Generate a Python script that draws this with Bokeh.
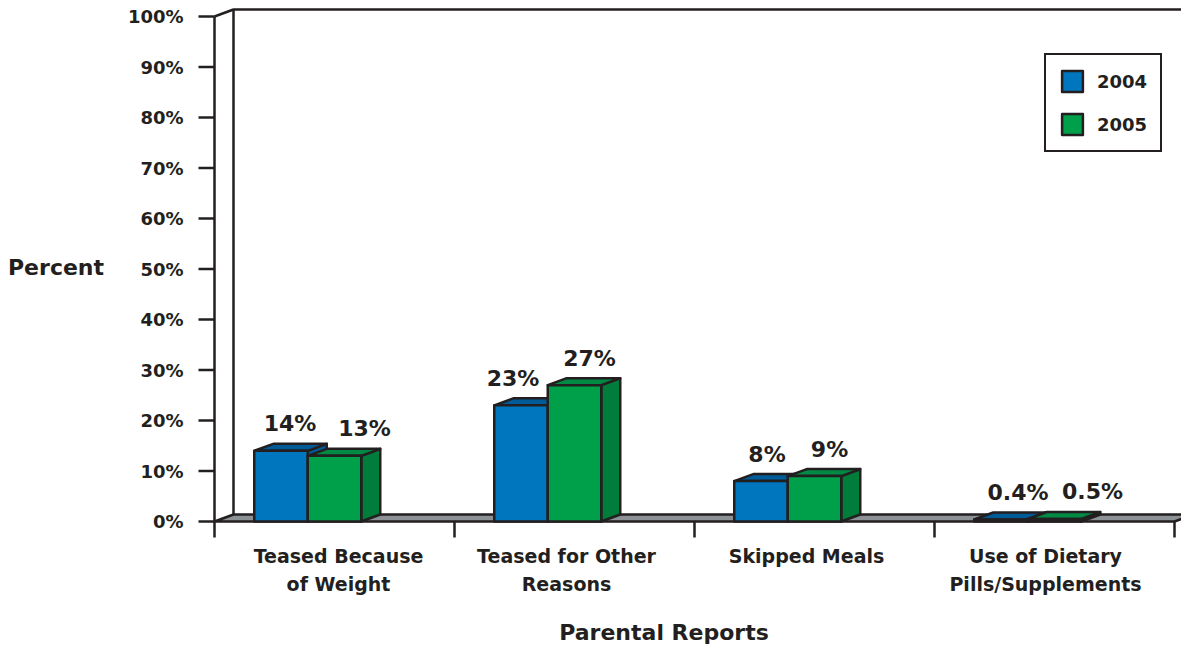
from bokeh.plotting import figure
from bokeh.models import Range1d, Legend, LegendItem
from bokeh.core.properties import value
from bokeh.embed import file_html
from bokeh.resources import INLINE

# ---- data -------------------------------------------------------------
categories = [
    "Teased Because\nof Weight",
    "Teased for Other\nReasons",
    "Skipped Meals",
    "Use of Dietary\nPills/Supplements",
]
series_names = ["2004", "2005"]
values_2004 = [14, 23, 8, 0.4]
values_2005 = [13, 27, 9, 0.5]
y_ticks = [0, 10, 20, 30, 40, 50, 60, 70, 80, 90, 100]
y_tick_labels = [f"{t}%" for t in y_ticks]
x_title = "Parental Reports"
y_title = "Percent"

# ---- layout / style ---------------------------------------------------
W, H = 1181, 646
LEFT = 214            # pixel column of the value axis
ZERO_PX = 521         # pixel row of 0 %
PX_PER_PCT = 5.05
PX_PER_CAT = 240

INK = "#231F20"
FONT = value("DejaVu Sans")
BLUE, BLUE_DARK = "#0076BE", "#005C98"
GREEN, GREEN_TOP, GREEN_SIDE = "#00A04B", "#008A43", "#007C3B"
FLOOR = "#8C9195"
LW = 2.5


def xu(px):
    return px / PX_PER_CAT


def yu(px):
    return px / PX_PER_PCT


BAR_W = xu(53.5)
DX, DY = xu(19), yu(7)          # depth offset of the 3-D boxes
n = len(categories)
centers = [i + 0.5 for i in range(n)]

p = figure(width=W, height=H, output_backend="svg", toolbar_location=None,
           x_range=Range1d(-LEFT / PX_PER_CAT, (W - LEFT) / PX_PER_CAT),
           y_range=Range1d(-(H - ZERO_PX) / PX_PER_PCT, ZERO_PX / PX_PER_PCT),
           x_axis_location=None, y_axis_location=None,
           min_border=0, outline_line_color=None,
           background_fill_color="white", border_fill_color="white")
p.grid.visible = False


def label_text(x, y, text, size, align="center"):
    p.text(x=x, y=y, text=text, text_font=FONT, text_font_style="bold",
           text_font_size=size, text_color=INK, text_align=align,
           text_baseline="middle")


# floor slab
p.patch([0, n, n + DX, DX], [0, 0, DY, DY], fill_color=FLOOR,
        line_color=INK, line_width=LW)
# back wall edges
p.line([DX, DX, n + DX], [DY, 100 + DY, 100 + DY], line_color=INK, line_width=LW)
p.line([0, DX], [100, 100 + DY], line_color=INK, line_width=LW)

# value axis: rule, ticks, labels, title
p.line([0, 0], [0, y_ticks[-1]], line_color=INK, line_width=LW)
p.segment(x0=[-xu(16)] * len(y_ticks), y0=y_ticks, x1=[0] * len(y_ticks),
          y1=y_ticks, line_color=INK, line_width=LW)
label_text([-xu(31)] * len(y_ticks), y_ticks, y_tick_labels, "18px", "right")
label_text([xu(55.5 - LEFT)], [yu(ZERO_PX - 267)], [y_title], "22px")

# category boundary ticks
p.segment(x0=list(range(n + 1)), y0=[0] * (n + 1), x1=list(range(n + 1)),
          y1=[-yu(16)] * (n + 1), line_color=INK, line_width=LW)


def boxes(xc, vals, face, top, side):
    x0 = [c - BAR_W / 2 for c in xc]
    x1 = [c + BAR_W / 2 for c in xc]
    side_xs = [[b, b + DX, b + DX, b] for b in x1]
    side_ys = [[0, DY, v + DY, v] for v in vals]
    top_xs = [[a, b, b + DX, a + DX] for a, b in zip(x0, x1)]
    top_ys = [[v, v, v + DY, v + DY] for v in vals]
    p.patches(side_xs, side_ys, fill_color=side, line_color=INK,
              line_width=LW, line_join="round")
    p.patches(top_xs, top_ys, fill_color=top, line_color=INK,
              line_width=LW, line_join="round")
    return p.vbar(x=xc, width=BAR_W, bottom=0, top=vals, fill_color=face,
                  line_color=INK, line_width=LW, line_join="round")


x_2004 = [c - BAR_W for c in centers]
x_2005 = centers
r2004 = boxes(x_2004, values_2004, BLUE, BLUE_DARK, BLUE_DARK)
r2005 = boxes(x_2005, values_2005, GREEN, GREEN_TOP, GREEN_SIDE)

# value labels above each box
nudge_2004 = [9, -8, 6, 17]
nudge_2005 = [30, 15, 15, 38]
for xs, vals, nudge in ((x_2004, values_2004, nudge_2004),
                        (x_2005, values_2005, nudge_2005)):
    label_text([x + xu(d) for x, d in zip(xs, nudge)],
               [v + yu(27) for v in vals],
               [f"{v:g}%" for v in vals], "22px")

# category labels (one or two lines)
cat_nudge = [4, -8, -8, -9]
line1_x, line1, line2_x, line2 = [], [], [], []
for c, d, name in zip(centers, cat_nudge, categories):
    parts = name.split("\n")
    line1_x.append(c + xu(d))
    line1.append(parts[0])
    if len(parts) > 1:
        line2_x.append(c + xu(d))
        line2.append(parts[1])
label_text(line1_x, [-yu(34)] * len(line1), line1, "19px")
label_text(line2_x, [-yu(62)] * len(line2), line2, "19px")

label_text([xu(663.5 - LEFT)], [-yu(111)], [x_title], "22px")

legend = Legend(items=[LegendItem(label=series_names[0], renderers=[r2004]),
                       LegendItem(label=series_names[1], renderers=[r2005])],
                location=(1044, 494), orientation="vertical",
                padding=13, spacing=17, glyph_width=26, glyph_height=26,
                label_standoff=12, label_text_font="DejaVu Sans",
                label_text_font_style="bold", label_text_font_size="18px",
                label_text_color=INK, border_line_color=INK,
                border_line_alpha=1.0, border_line_width=LW, margin=0,
                background_fill_color="white", background_fill_alpha=1.0)
p.add_layout(legend, "center")

open("out.html", "w").write(file_html(p, INLINE))
